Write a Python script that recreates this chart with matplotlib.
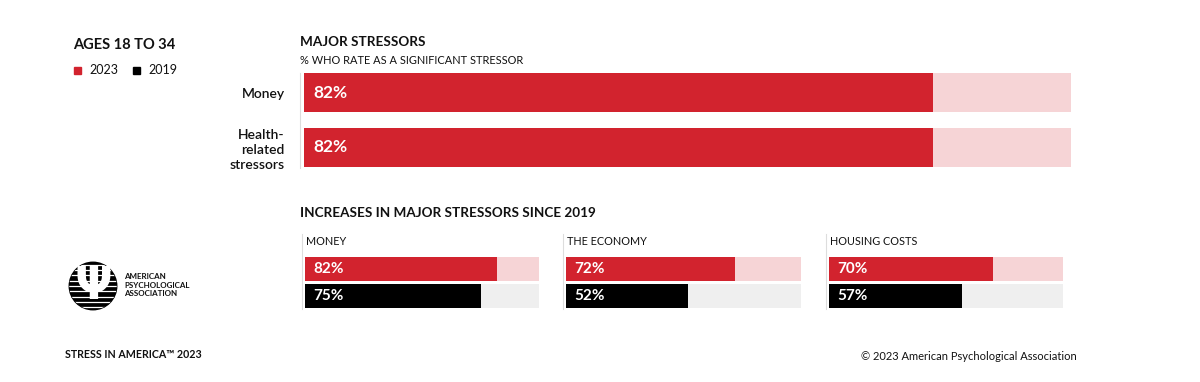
import numpy as np
import matplotlib
matplotlib.use("Agg")
import matplotlib.pyplot as plt
from matplotlib.patches import Circle

# data
top_labels = ["Money", "Health-\nrelated\nstressors"]
top_2023 = [82, 82]

panel_titles = ["MONEY", "THE ECONOMY", "HOUSING COSTS"]
panel_2023 = [82, 72, 70]
panel_2019 = [75, 52, 57]

RED = "#D2232E"
PINK = "#F6D4D6"
GREY = "#EFEFEF"
BLACK = "#000000"
TXT = "#111111"

W, H = 1200, 382
plt.rcParams["font.family"] = ["Lato", "DejaVu Sans"]
fig = plt.figure(figsize=(W / 100, H / 100), dpi=100)


def px_axes(x0, y0, x1, y1):
    return fig.add_axes([x0 / W, 1 - y1 / H, (x1 - x0) / W, (y1 - y0) / H])


def fx(x):
    return x / W


def fy(y):
    return 1 - y / H


# header / legend
fig.text(fx(73), fy(45), "AGES 18 TO 34", fontsize=10.5, fontweight="bold",
         color=TXT, va="center")
fig.patches.append(plt.Rectangle((fx(74), fy(74)), 7 / W, 7 / H, color=RED,
                                 transform=fig.transFigure))
fig.text(fx(89), fy(70), "2023", fontsize=9, color=TXT, va="center")
fig.patches.append(plt.Rectangle((fx(133), fy(74)), 7 / W, 7 / H, color=BLACK,
                                 transform=fig.transFigure))
fig.text(fx(148), fy(70), "2019", fontsize=9, color=TXT, va="center")

# top chart
fig.text(fx(300), fy(42), "MAJOR STRESSORS", fontsize=9.7, fontweight="bold",
         color=TXT, va="center")
fig.text(fx(300), fy(61), "% WHO RATE AS A SIGNIFICANT STRESSOR", fontsize=7.9,
         color=TXT, va="center")

ax = px_axes(304, 65, 1071, 175)
ypos = np.arange(len(top_labels))
ax.barh(ypos, [100] * len(ypos), height=0.71, color=PINK)
ax.barh(ypos, top_2023, height=0.71, color=RED)
for y, v in zip(ypos, top_2023):
    ax.text(1.2, y, f"{v}%", color="white", fontsize=12.5, fontweight="bold",
            va="center", ha="left")
ax.set_xlim(0, 100)
ax.set_ylim(1.5, -0.5)
ax.set_yticks(ypos)
ax.set_yticklabels(top_labels, fontsize=10, color=TXT, linespacing=1.3,
                   fontweight="semibold")
ax.tick_params(axis="y", length=0, pad=14)
ax.set_xticks([])
for s in ax.spines.values():
    s.set_visible(False)
fig.add_artist(plt.Line2D([fx(300), fx(300)], [fy(73), fy(168)], color="#DDDDDD",
                          lw=0.8))

# small panels
fig.text(fx(300), fy(213), "INCREASES IN MAJOR STRESSORS SINCE 2019", fontsize=9.7,
         fontweight="bold", color=TXT, va="center")
panel_x = [(305, 539), (566, 801), (829, 1063)]
for (x0, x1), title, v23, v19 in zip(panel_x, panel_titles, panel_2023, panel_2019):
    fig.add_artist(plt.Line2D([fx(x0 - 3), fx(x0 - 3)], [fy(234), fy(309)],
                              color="#DDDDDD", lw=0.8))
    fig.text(fx(x0 + 1), fy(242), title, fontsize=7.8, color=TXT, va="center")
    a = px_axes(x0, 256, x1, 309)
    a.barh([0, 1], [100, 100], height=0.9, color=[PINK, GREY])
    a.barh([0, 1], [v23, v19], height=0.9, color=[RED, BLACK])
    for y, v in zip([0, 1], [v23, v19]):
        a.text(3.4, y, f"{v}%", color="white", fontsize=11, fontweight="bold",
               va="center", ha="left")
    a.set_xlim(0, 100)
    a.set_ylim(1.5, -0.5)
    a.axis("off")

# logo
lg = px_axes(68, 261, 118, 311)
lg.set_xlim(-1, 1)
lg.set_ylim(-1, 1)
lg.set_aspect("equal")
lg.axis("off")
circ = Circle((0, 0), 0.95, color=BLACK)
lg.add_patch(circ)
for yy in np.linspace(-0.85, 0.85, 9):
    ln, = lg.plot([-1, 1], [yy, yy], color="white", lw=0.9)
    ln.set_clip_path(circ)
lg.text(0, -0.02, "Ψ", color="white", fontsize=32, fontweight="bold",
        ha="center", va="center", family="DejaVu Sans")
fig.text(fx(124), fy(285), "AMERICAN\nPSYCHOLOGICAL\nASSOCIATION", fontsize=5.8,
         fontweight="bold", color=TXT, va="center", linespacing=1.25)

# footer
fig.text(fx(65), fy(354), "STRESS IN AMERICA\u2122 2023", fontsize=7.7, fontweight="bold",
         color=TXT, va="center")
fig.text(fx(1077), fy(357), "\u00a9 2023 American Psychological Association",
         fontsize=8, color=TXT, va="center", ha="right")

fig.savefig("out.png", dpi=100, facecolor="white")
